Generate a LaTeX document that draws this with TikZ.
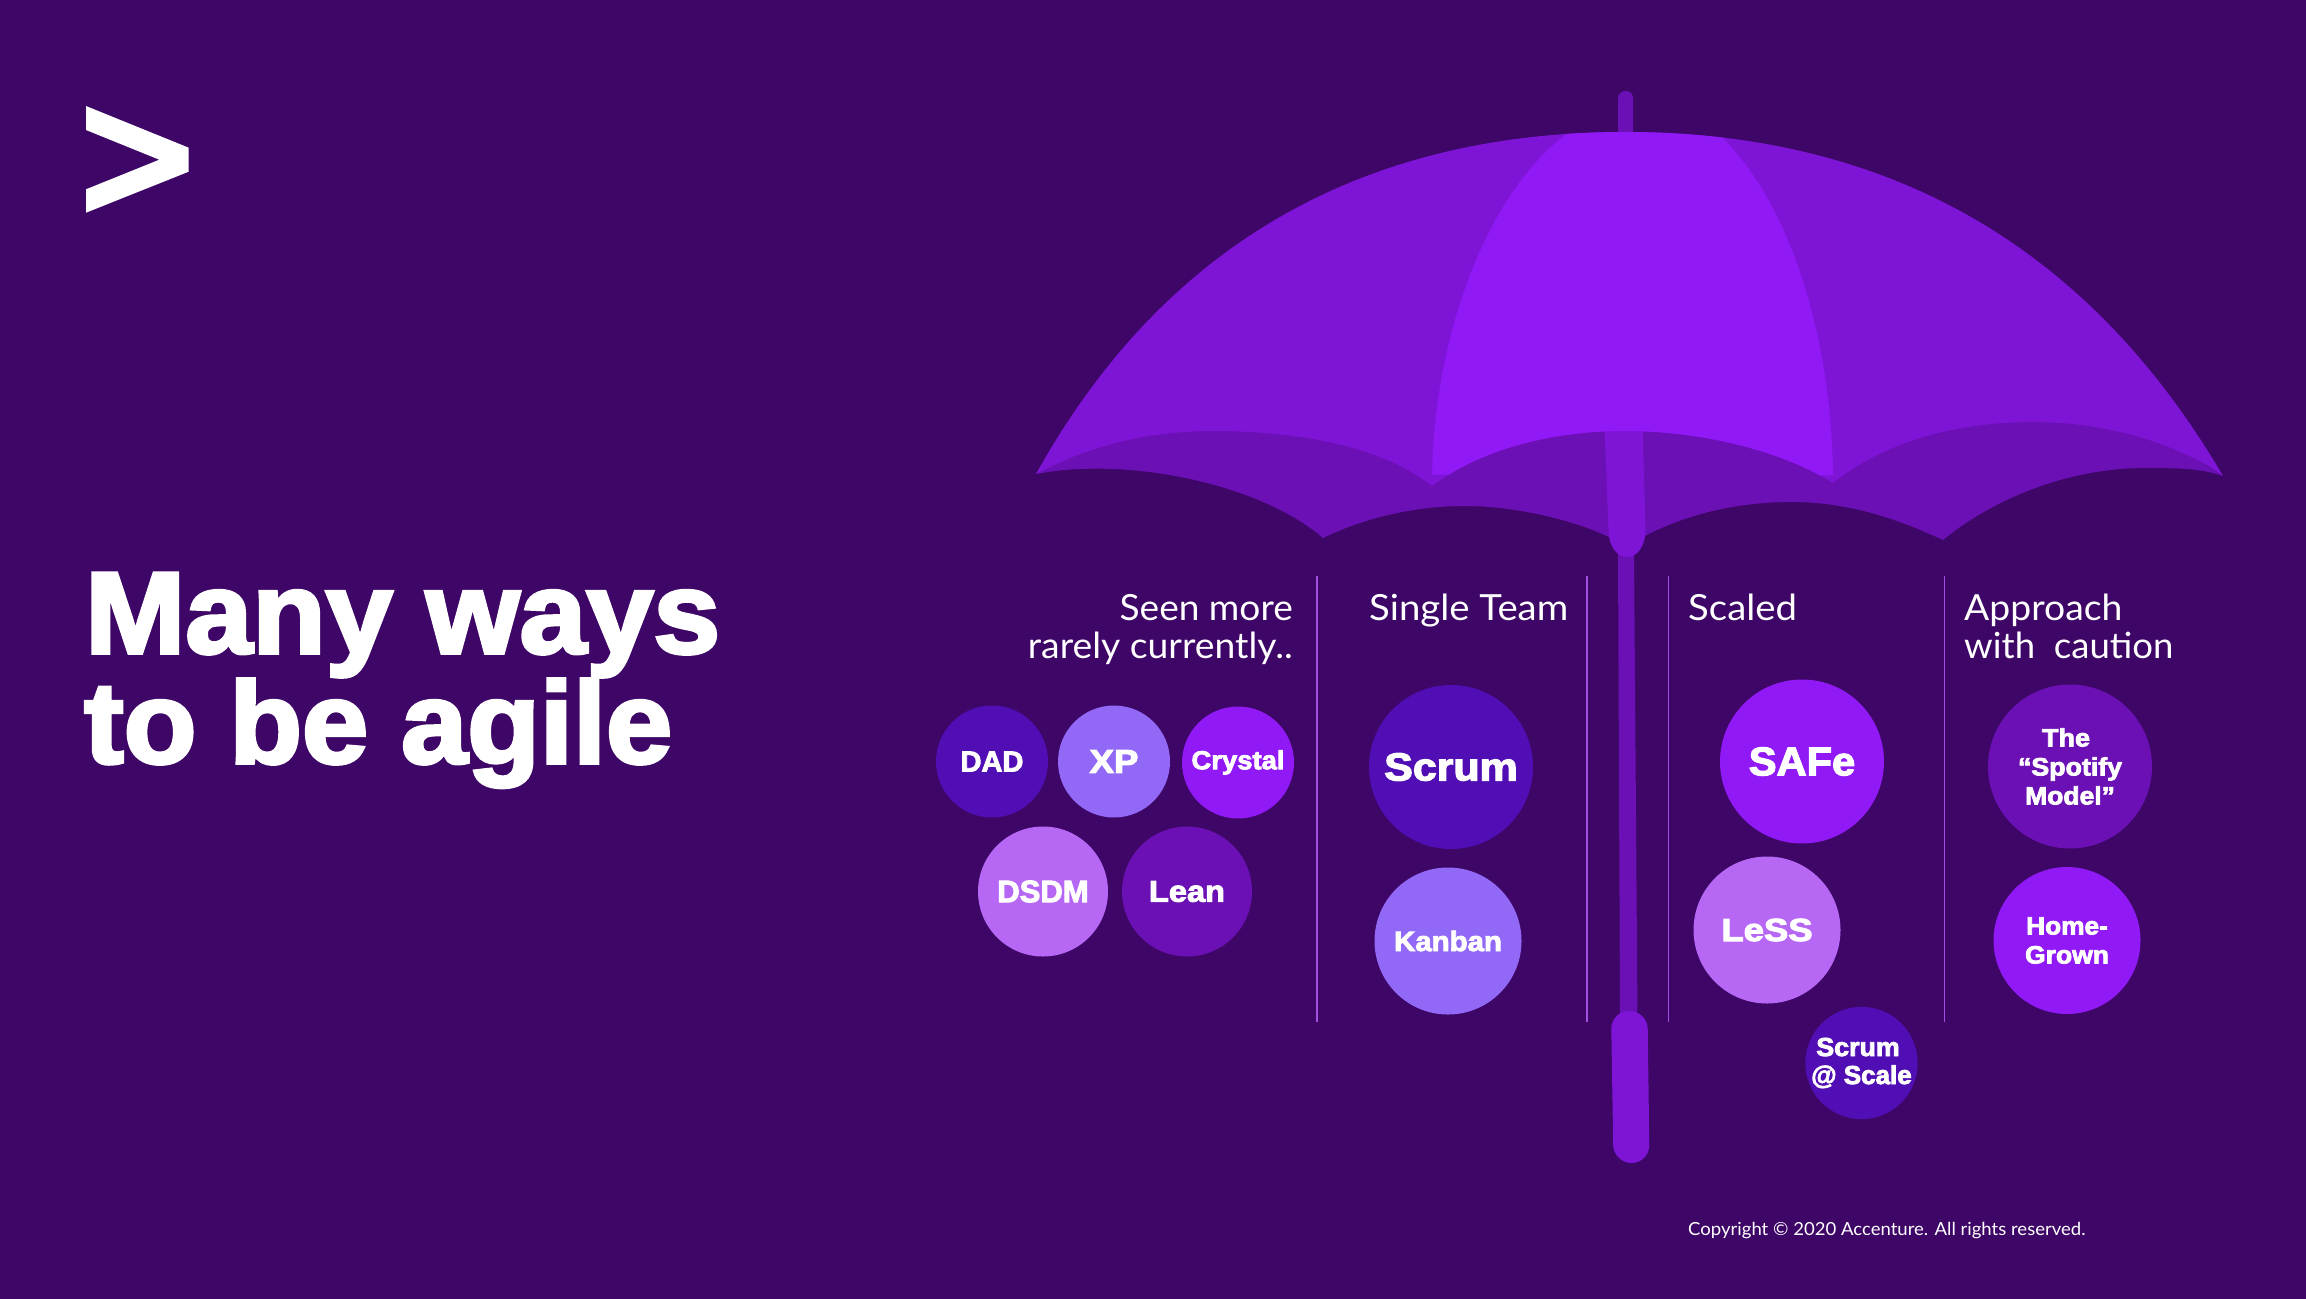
\documentclass[tikz,border=0pt]{standalone}
\usepackage{fontspec}
\usepackage{graphicx}
\setmainfont{Lato}[FakeStretch=1.03]
\newfontfamily\headf{Lato}[FakeStretch=1.065]
\newfontfamily\blk{Liberation Sans}[BoldFeatures={FakeBold=3}]
\newfontfamily\ttl{Liberation Sans}[BoldFeatures={FakeBold=3}]
\newcommand{\sx}[2]{\scalebox{#1}[1]{#2}}
\definecolor{bgc}{HTML}{3D0667}
\definecolor{cmid}{HTML}{9119F5}
\definecolor{cside}{HTML}{7E15D6}
\definecolor{cin}{HTML}{6A10B4}
\definecolor{cdeep}{HTML}{500EB4}
\definecolor{cviol}{HTML}{9269F7}
\definecolor{clil}{HTML}{B668F5}
\definecolor{cline}{HTML}{A050E0}
\tikzset{x=1pt,y=-1pt,
 bub/.style={circle,minimum size=#1,inner sep=0pt,text=white,align=center},
 titletext/.style={anchor=base west,text=white,inner sep=0pt,font=\ttl\bfseries\fontsize{116}{112}\selectfont},
 head/.style={text=white,inner sep=0pt,font=\headf\fontsize{36}{38}\selectfont},
 divider/.style={cline,line width=1.4pt}}
\newcommand{\bk}[2]{\blk\bfseries\fontsize{#1}{#2}\selectfont}
\begin{document}
\begin{tikzpicture}
\useasboundingbox (0,0) rectangle (2306,1298);
\fill[bgc] (-6,-6) rectangle (2312,1304);
% logo
\fill[white] (86,106) -- (188.7,147.7) -- (188.7,171.7) -- (86,212.7) -- (86,189.3) -- (159.3,159.7) -- (86,130) -- cycle;
% title
\node[titletext] (t1) at (85,653) {\sx{1.037}{Many ways}};
\node[titletext] (t2) at (84,763) {\sx{1.025}{to be agile}};
% ferrule and thin shaft
\fill[cin,rounded corners=7pt] (1618,140) -- (1618,91) -- (1633,91) -- (1633,140) -- cycle;
\fill[cin] (1618,550) -- (1634,550) -- (1637.5,1020) -- (1620,1020) -- cycle;
% under canopy
\fill[cin] (1036,474) .. controls (1130,456) and (1262,485) .. (1323,538)
  .. controls (1360,520) and (1410,506) .. (1465,506)
  .. controls (1510,506) and (1570,518) .. (1611,538)
  -- (1645,536) .. controls (1685,515) and (1735,502) .. (1792,502)
  .. controls (1850,502) and (1900,520) .. (1943,540)
  .. controls (1985,505) and (2060,468) .. (2145,468)
  .. controls (2175,468) and (2200,468) .. (2223,476)
  -- (2100,400) -- (1150,400) -- cycle;
% upper shaft
\fill[cside] (1604.5,425) -- (1642.5,425) -- (1645.5,530) .. controls (1645.5,545) and (1638,557) .. (1627,557)
  .. controls (1616,557) and (1608.5,545) .. (1608.5,530) -- cycle;
% canopy side panels
\fill[cside] (1036,474) .. controls (1180,215) and (1400,132) .. (1625,132)
  .. controls (1850,132) and (2070,215) .. (2223,476)
  .. controls (2180,445) and (2110,422) .. (2033,422)
  .. controls (1950,422) and (1880,445) .. (1833,483)
  .. controls (1780,450) and (1700,431) .. (1625,431)
  .. controls (1550,431) and (1480,450) .. (1432,486)
  .. controls (1380,445) and (1295,431) .. (1213,431)
  .. controls (1150,431) and (1090,445) .. (1036,474) -- cycle;
% centre panel
\begin{scope}
\clip (1036,474) .. controls (1180,215) and (1400,132) .. (1625,132)
  .. controls (1850,132) and (2070,215) .. (2223,476) -- cycle;
\fill[cmid] (1567,100) -- (1567,134) .. controls (1495,185) and (1432,325) .. (1432,486)
  .. controls (1480,450) and (1550,431) .. (1625,431)
  .. controls (1700,431) and (1780,450) .. (1833,483)
  .. controls (1833,340) and (1790,205) .. (1723.5,139) -- (1723.5,100) -- cycle;
\end{scope}
% handle
\fill[cside,rounded corners=18pt] (1611,1011) -- (1647.5,1011) -- (1649.5,1163) -- (1613.5,1163) -- cycle;
% dividers
\draw[divider] (1317,576) -- (1317,1022);
\draw[divider] (1587,576) -- (1587,1022);
\draw[divider] (1668.4,576) -- (1668.4,1022);
\draw[divider] (1944.4,576) -- (1944.4,1022);
% headings
\node[head,anchor=base east] (h1) at (1293,620) {\sx{0.967}{Seen more}};
\node[head,anchor=base east] (h1b) at (1293,658) {\sx{0.973}{rarely currently..}};
\node[head,anchor=base west] (h2) at (1369,620) {Single Team};
\node[head,anchor=base west] (h3) at (1688,620) {Scaled};
\node[head,anchor=base west] (h4) at (1964,620) {\sx{0.973}{Approach}};
\node[head,anchor=base west] (h4b) at (1964,658) {\sx{0.953}{with\ \ caution}};
% bubbles
\node[bub=112pt,fill=cdeep,font=\bk{29}{30}] (dad) at (992,761.5) {\sx{1.0}{DAD}};
\node[bub=112pt,fill=cviol,font=\bk{33}{34}] (xp) at (1114,761.5) {\sx{1.11}{XP}};
\node[bub=112pt,fill=cmid,font=\bk{26}{28}] (cry) at (1238,762.5) {\sx{1.055}{Crystal}};
\node[bub=130pt,fill=clil,font=\bk{31}{32}] (dsdm) at (1043,891.5) {\sx{1.0}{DSDM}};
\node[bub=130pt,fill=cin,font=\bk{30}{30}] (lean) at (1187,891.5) {\sx{1.085}{Lean}};
\node[bub=164pt,fill=cdeep,font=\bk{39}{40}] (scrum) at (1451,767) {\sx{1.1}{Scrum}};
\node[bub=147pt,fill=cviol,font=\bk{28}{30}] (kan) at (1448,941) {\sx{1.05}{Kanban}};
\node[bub=164pt,fill=cmid,font=\bk{40}{42}] (safe) at (1802,761.5) {\sx{1.04}{SAFe}};
\node[bub=147pt,fill=clil,font=\bk{32}{34}] (less) at (1767,930) {\sx{1.14}{LeSS}};
\node[bub=108pt,fill=cdeep,font=\bk{26}{28}] (sas) at (1861.5,1063) {\sx{1.03}{Scrum}\hspace*{7pt}\\\sx{1.0}{@ Scale}};
\node[bub=164pt,fill=cin,font=\bk{25}{29}] (spot) at (2070,766.5) {\sx{1.08}{The}\hspace*{8pt}\\\sx{1.07}{“Spotify}\\\sx{1.06}{Model”}};
\node[bub=147pt,fill=cmid,font=\bk{25}{29}] (home) at (2067,940.5) {\sx{1.05}{Home-}\\\sx{1.06}{Grown}};
% copyright
\node[anchor=base west,text=white,inner sep=0pt,font=\fontsize{18}{20}\selectfont] (copy) at (1688,1235.5) {Copyright © 2020 Accenture. All rights reserved.};
\end{tikzpicture}
\end{document}
